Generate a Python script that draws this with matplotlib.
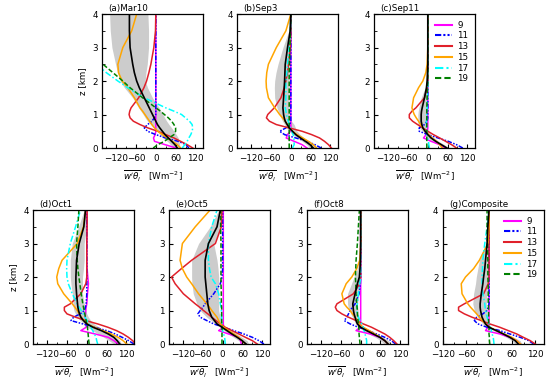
import matplotlib
matplotlib.use('Agg')
import matplotlib.pyplot as plt
from matplotlib.ticker import MultipleLocator

Z = [0, 0.1, 0.2, 0.3, 0.4, 0.5, 0.6, 0.7, 0.8, 0.9, 1.0, 1.1, 1.2, 1.5, 1.8, 2.0, 2.25, 2.5, 3.0, 3.5, 4.0]

hours = ['9', '11', '13', '15', '17', '19']

# (a) Mar10
a9 = [62, 28, -4, -7, -2, 0, 0, 0, 0, 0, 0, 0, 0, 0, 0, 0, 0, 0, 0, 0, 0]
a11 = [100, 92, 68, 30, 0, -25, -35, -25, -12, -4, 0, 0, 0, 0, 0, 0, 0, 0, 0, 0, 0]
a13 = [112, 95, 75, 55, 30, 6, -24, -48, -68, -78, -81, -79, -75, -52, -36, -28, -21, -15, -6, -1, 0]
a15 = [75, 65, 50, 35, 20, 6, -4, -12, -19, -26, -33, -40, -48, -65, -85, -102, -113, -115, -100, -73, -58]
a17 = [80, 88, 95, 100, 106, 110, 112, 110, 102, 90, 78, 55, 30, -35, -85, -115, -150, -180, -230, -280, -320]
a19 = [-8, 6, 26, 40, 55, 60, 60, 55, 48, 38, 26, 14, 0, -40, -78, -100, -130, -160, -220, -270, -310]
a_mean = [65, 58, 48, 38, 28, 20, 12, 5, 0, -5, -10, -15, -20, -35, -50, -58, -65, -70, -78, -80, -80]
a_lo = [55, 45, 35, 22, 12, 5, -5, -15, -25, -32, -38, -45, -52, -70, -95, -108, -116, -122, -133, -138, -140]
a_hi = [75, 72, 70, 68, 62, 55, 48, 40, 33, 27, 22, 16, 10, -10, -25, -32, -30, -26, -22, -22, -24]

# (b) Sep3
b9 = [49, 34, 10, -14, -10, -2, 0, 0, 0, 0, 0, 0, 0, 0, 0, 0, 0, 0, 0, 0, 0]
b11 = [92, 73, 49, 15, -19, -34, -15, -3, 0, 0, 0, 0, 0, 0, 0, 0, 0, 0, 0, 0, 0]
b13 = [123, 114, 102, 87, 63, 34, -5, -44, -65, -74, -70, -60, -50, -30, -20, -15, -10, -7, -2, 0, 0]
b15 = [78, 68, 53, 36, 19, 5, -5, -11, -17, -25, -34, -41, -49, -68, -74, -75, -73, -68, -44, -15, 0]
b17 = [5, 10, 10, 9, 7, 3, -2, -5, -8, -11, -13, -15, -17, -15, -15, -15, -12, -10, -5, -1, 0]
b19 = [-5, -5, -5, -5, -5, -5, -5, -5, -5, -5, -5, -5, -5, -5, -5, -5, -5, -4, -3, -1, 0]
b_mean = [68, 58, 44, 29, 15, 5, -5, -11, -17, -20, -22, -23, -24, -22, -20, -19, -18, -17, -10, -2, 0]
b_lo = [58, 48, 35, 20, 6, -5, -13, -19, -25, -30, -34, -38, -42, -49, -50, -49, -45, -39, -24, -6, 0]
b_hi = [82, 70, 55, 40, 28, 19, 14, 10, 2, -2, -5, -5, -5, -5, -5, -5, -5, -5, 0, 0, 0]

# (c) Sep11
c9 = [54, 36, 10, -13, -5, -1, 0, 0, 0, 0, 0, 0, 0, 0, 0, 0, 0, 0, 0, 0, 0]
c11 = [106, 87, 62, 31, 0, -26, -26, -10, -2, 0, 0, 0, 0, 0, 0, 0, 0, 0, 0, 0, 0]
c13 = [87, 72, 54, 36, 17, 0, -15, -31, -46, -56, -56, -48, -36, -10, -2, 0, 0, 0, 0, 0, 0]
c15 = [44, 36, 26, 13, 3, -7, -15, -22, -28, -35, -41, -45, -48, -43, -28, -15, -6, -2, 0, 0, 0]
c17 = [5, 3, 2, 0, -2, -4, -4, -4, -4, -3, -3, -3, -2, -1, 0, 0, 0, 0, 0, 0, 0]
c19 = [-3, -3, -3, -3, -3, -3, -3, -3, -3, -3, -3, -3, -3, -2, -1, 0, 0, 0, 0, 0, 0]
c_mean = [58, 41, 24, 10, 0, -8, -15, -18, -20, -20, -20, -19, -17, -10, -4, -2, -1, 0, 0, 0, 0]
c_lo = [50, 32, 15, 0, -8, -15, -25, -30, -30, -30, -30, -29, -27, -20, -8, -5, -2, 0, 0, 0, 0]
c_hi = [65, 50, 33, 20, 8, 0, -5, -5, -5, -5, -5, -4, -3, 0, 0, 0, 0, 0, 0, 0, 0]

# (d) Oct1
d9 = [95, 82, 65, 25, -18, -2, -2, -3, -5, -4, -3, -2, 0, 2, 5, 3, 1, 0, 0, 0, 0]
d11 = [143, 127, 107, 86, 60, 24, -12, -48, -40, -20, -7, -4, -2, 0, 0, 0, 0, 0, 0, 0, 0]
d13 = [147, 139, 126, 110, 90, 64, 33, -3, -34, -60, -68, -68, -50, -18, -3, 0, 0, 0, 0, 1, 1]
d15 = [121, 110, 95, 74, 49, 23, 2, -8, -17, -23, -29, -36, -44, -70, -88, -91, -85, -75, -29, -10, -3]
d17 = [33, 30, 28, 23, 18, 12, 7, 1, -6, -11, -17, -23, -29, -44, -56, -60, -61, -60, -50, -34, -19]
d19 = [7, 6, 5, 4, 3, 2, 0, -2, -4, -6, -8, -10, -12, -17, -21, -24, -27, -29, -31, -27, -24]
d_mean = [100, 92, 82, 65, 44, 19, 0, -10, -18, -22, -25, -27, -28, -31, -33, -33, -32, -31, -23, -9, -4]
d_lo = [82, 68, 52, 35, 18, 2, -10, -19, -28, -34, -39, -41, -42, -44, -48, -50, -50, -50, -44, -25, -8]
d_hi = [105, 100, 90, 74, 55, 38, 22, 12, 5, 0, -3, -5, -8, -13, -13, -13, -10, -8, -8, 0, 0]

# (e) Oct5
e9 = [57, 54, 49, 18, -12, 2, 2, 2, 2, 2, 2, 2, 2, 2, 2, 2, 2, 2, 2, 2, 2]
e11 = [125, 110, 90, 64, 34, 3, -27, -48, -68, -75, -68, -60, -53, -27, -7, -2, 0, 0, 0, 0, 0]
e13 = [105, 90, 69, 49, 28, 8, -7, -20, -33, -45, -58, -70, -83, -119, -144, -155, -125, -94, -22, -4, -2]
e15 = [69, 59, 49, 34, 18, 3, -7, -12, -17, -25, -33, -40, -48, -73, -94, -109, -122, -129, -122, -83, -38]
e17 = [8, 7, 6, 3, 0, -2, -2, -3, -3, -4, -4, -5, -7, -12, -22, -35, -40, -43, -43, -33, -17]
e19 = [-2, -2, -2, -2, -2, -2, -3, -3, -3, -3, -3, -3, -4, -4, -5, -5, -5, -5, -5, -6, -6]
e_mean = [71, 59, 44, 28, 13, -2, -17, -25, -33, -37, -41, -43, -45, -48, -51, -53, -53, -53, -43, -17, -7]
e_lo = [64, 49, 33, 18, 5, -7, -22, -35, -48, -58, -68, -73, -78, -89, -93, -94, -94, -94, -73, -38, -12]
e_hi = [79, 74, 58, 44, 25, 8, 3, -2, -7, -10, -12, -12, -12, -12, -12, -12, -14, -17, -27, -5, 0]

# (f) Oct8
f9 = [83, 73, 58, 28, -14, -2, 0, 0, 0, 0, 0, 0, 0, 0, 0, 0, 0, 0, 0, 0, 0]
f11 = [106, 93, 73, 48, 23, -7, -32, -50, -42, -37, -32, -25, -17, -5, -1, 0, 0, 0, 0, 0, 0]
f13 = [110, 100, 88, 73, 53, 33, 8, -14, -37, -57, -72, -77, -72, -22, -3, 0, 0, 0, 0, 0, 0]
f15 = [83, 73, 60, 43, 26, 8, -4, -10, -17, -25, -32, -42, -50, -57, -44, -27, -12, -3, 0, 0, 0]
f17 = [18, 18, 16, 13, 10, 8, 3, -2, -7, -10, -12, -11, -10, -7, -3, 0, 0, 0, 0, 0, 0]
f19 = [-2, -3, -4, -5, -5, -6, -7, -8, -9, -10, -10, -11, -12, -14, -15, -16, -15, -14, -10, -7, -4]
f_mean = [83, 73, 58, 38, 18, 0, -10, -14, -17, -20, -22, -23, -24, -17, -10, -4, -2, -1, 0, 0, 0]
f_lo = [72, 60, 45, 25, 8, -5, -15, -20, -25, -30, -35, -38, -40, -40, -28, -20, -10, -5, 0, 0, 0]
f_hi = [92, 85, 68, 45, 25, 8, 0, -3, -5, -7, -8, -9, -10, -5, -2, 0, 0, 0, 0, 0, 0]

# (g) Composite
g9 = [81, 72, 54, 28, -9, -3, 0, 0, 0, 0, 0, 0, 0, 0, 0, 0, 0, 0, 0, 0, 0]
g11 = [116, 103, 81, 54, 28, -5, -29, -38, -32, -16, -5, -2, 0, 0, 0, 0, 0, 0, 0, 0, 0]
g13 = [120, 107, 89, 72, 50, 28, 2, -20, -44, -64, -79, -79, -64, -14, -2, 0, 0, 0, 0, 0, 0]
g15 = [82, 72, 59, 39, 19, 2, -9, -17, -25, -32, -40, -48, -55, -70, -72, -61, -40, -25, -3, 0, 0]
g17 = [13, 12, 11, 8, 6, 3, 0, -2, -5, -7, -9, -10, -11, -16, -18, -18, -17, -16, -11, -5, 0]
g19 = [2, 1, 1, 0, 0, 0, -1, -1, -1, -1, -1, -1, -2, -2, -2, -3, -3, -3, -4, -5, -5]
g_mean = [76, 68, 54, 37, 19, 0, -9, -14, -18, -20, -22, -23, -23, -20, -16, -14, -11, -9, -5, -3, 0]
g_lo = [68, 59, 45, 28, 12, -5, -16, -22, -29, -34, -38, -40, -42, -40, -35, -33, -29, -25, -8, -3, 0]
g_hi = [85, 81, 64, 46, 28, 6, 0, -3, -5, -5, -5, -6, -7, -5, -4, -3, -3, -3, 0, 0, 0]

panels = [
    ('(a)Mar10', [a9, a11, a13, a15, a17, a19], a_mean, a_lo, a_hi),
    ('(b)Sep3', [b9, b11, b13, b15, b17, b19], b_mean, b_lo, b_hi),
    ('(c)Sep11', [c9, c11, c13, c15, c17, c19], c_mean, c_lo, c_hi),
    ('(d)Oct1', [d9, d11, d13, d15, d17, d19], d_mean, d_lo, d_hi),
    ('(e)Oct5', [e9, e11, e13, e15, e17, e19], e_mean, e_lo, e_hi),
    ('(f)Oct8', [f9, f11, f13, f15, f17, f19], f_mean, f_lo, f_hi),
    ('(g)Composite', [g9, g11, g13, g15, g17, g19], g_mean, g_lo, g_hi),
]

colors = ['#ff00ff', '#0000ff', '#e0202a', '#ffa500', '#00ffff', '#008000']
styles = ['-', (0, (3, 1, 1, 1, 1, 1)), '-', '-', (0, (4, 1.5, 1, 1.5)), (0, (3, 1.5))]

FS = 6.3
plt.rcParams['font.size'] = FS

fig = plt.figure(figsize=(5.5, 3.8), dpi=100)

# axes boxes in figure fractions (left, bottom, width, height)
w, h = 0.1836, 0.3526
boxes = [(0.1855, 0.6105), (0.431, 0.6105), (0.680, 0.6105),
         (0.060, 0.0947), (0.307, 0.0947), (0.558, 0.0947), (0.805, 0.0947)]

for i, (title, series, mean, lo, hi) in enumerate(panels):
    ax = fig.add_axes([boxes[i][0], boxes[i][1], w, h])
    ax.fill_betweenx(Z, lo, hi, color='0.8', lw=0, zorder=1)
    for s, c, ls, lab in zip(series, colors, styles, hours):
        ax.plot(s, Z, color=c, ls=ls, lw=1.1, label=lab, zorder=2)
    ax.plot(mean, Z, color='k', lw=1.2, zorder=3)

    if i == 6:
        ax.set_xlim(-120, 142)
    else:
        ax.set_xlim(-163, 143)
    ax.set_ylim(0, 4)
    ax.xaxis.set_major_locator(MultipleLocator(60))
    ax.xaxis.set_minor_locator(MultipleLocator(30))
    ax.yaxis.set_major_locator(MultipleLocator(1))
    ax.yaxis.set_minor_locator(MultipleLocator(0.5))
    ax.tick_params(which='both', direction='in', labelsize=FS)
    ax.tick_params(axis='x', pad=4)
    ax.tick_params(axis='y', pad=3)
    ax.tick_params(which='major', length=3)
    ax.tick_params(which='minor', length=1.8)
    for sp in ax.spines.values():
        sp.set_linewidth(0.9)

    ax.text(0.06, 1.01, title, transform=ax.transAxes, ha='left', va='bottom', fontsize=FS)
    ax.set_xlabel(r"$\overline{w'\theta_l}$   [Wm$^{-2}$]", fontsize=FS, labelpad=4)
    if i in (0, 3):
        ax.set_ylabel('z [km]', fontsize=FS, labelpad=4)
    if i in (2, 6):
        leg = ax.legend(loc='upper right', frameon=False, fontsize=FS, handlelength=1.9,
                        handletextpad=0.6, labelspacing=0.2, borderaxespad=0.35)
        for ln in leg.get_lines():
            ln.set_linewidth(1.5)

fig.savefig('out.png', dpi=100)
